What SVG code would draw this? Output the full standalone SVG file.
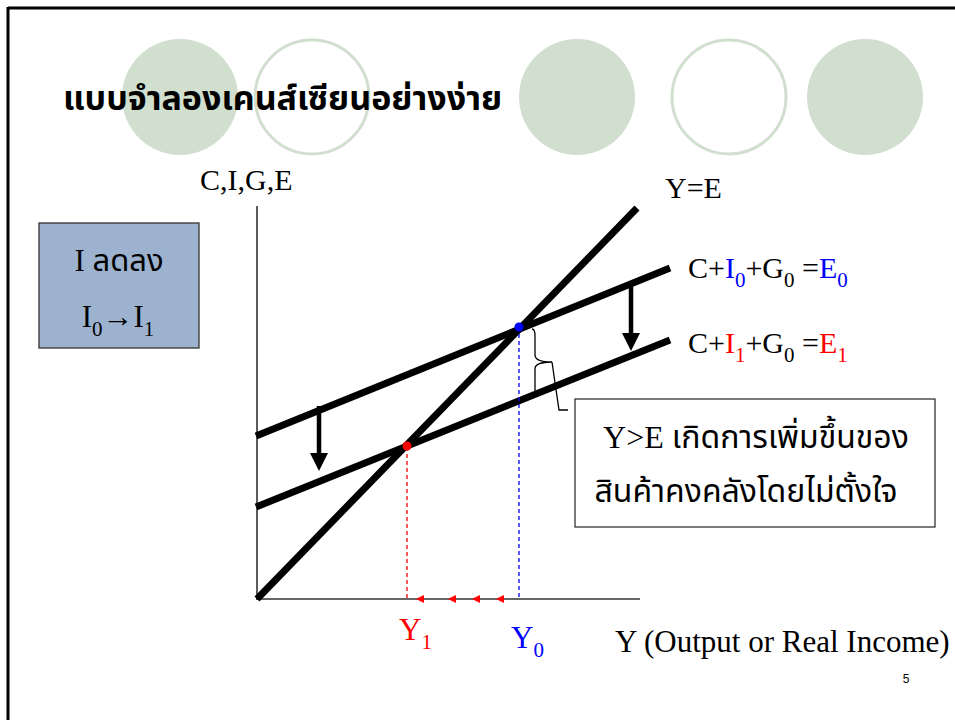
<svg xmlns="http://www.w3.org/2000/svg" width="955" height="720" viewBox="0 0 955 720">
<style>
.deco-f{fill:#d1dfcf;}
.deco-o{fill:#ffffff;stroke:#d1dfcf;stroke-width:3;}
.t{font-family:"Liberation Serif","Noto Sans Thai","Noto Serif Thai","Noto Sans",serif;fill:#000;}
.red{fill:#ff0000;}
.blue{fill:#0000ff;}
.thick{stroke:#000;stroke-width:7;stroke-linecap:butt;fill:none;}
.axis{stroke:#333;stroke-width:1.6;fill:none;}
.dash{stroke-width:1.3;stroke-dasharray:4 3;fill:none;}
.sub{font-size:21px;}
</style>
<rect width="955" height="720" fill="#ffffff"/>
<g id="frame">
<line x1="8" y1="8" x2="955" y2="8" stroke="#000" stroke-width="3"/>
<line x1="8" y1="7" x2="8" y2="720" stroke="#000" stroke-width="3"/>
</g>
<g id="decor">
<ellipse class="deco-f" cx="180" cy="97" rx="58" ry="58"/>
<ellipse class="deco-o" cx="312" cy="97" rx="57" ry="57"/>
<ellipse class="deco-f" cx="577" cy="97" rx="58" ry="58"/>
<ellipse class="deco-o" cx="729" cy="97" rx="57" ry="57"/>
<ellipse class="deco-f" cx="865" cy="97" rx="58" ry="58"/>
</g>
<g id="title">
<text class="t" x="63" y="110" font-size="34" font-weight="bold">แบบจำลองเคนส์เซียนอย่างง่าย</text>
</g>
<g id="connectors">
<line class="axis" x1="257" y1="206" x2="257" y2="600"/>
<line class="axis" x1="256" y1="599" x2="640" y2="599"/>
<line class="thick" x1="257" y1="599" x2="637" y2="208"/>
<line class="thick" x1="256" y1="436" x2="670" y2="268"/>
<line class="thick" x1="256" y1="507" x2="670" y2="340"/>
<line class="dash" stroke="#ff0000" x1="407" y1="447" x2="407" y2="598"/>
<line class="dash" stroke="#0000ff" x1="519" y1="327" x2="519" y2="598"/>
<g fill="#ff0000">
<path d="M416,599 L424,595 L424,603 Z"/>
<path d="M448,599 L456,595 L456,603 Z"/>
<path d="M472,599 L480,595 L480,603 Z"/>
<path d="M496,599 L504,595 L504,603 Z"/>
</g>
<g id="arrow-left">
<line x1="319" y1="406" x2="319" y2="455" stroke="#000" stroke-width="4.5"/>
<path d="M310,453 L328,453 L319,471 Z" fill="#000"/>
</g>
<g id="arrow-right">
<line x1="631" y1="284" x2="631" y2="335" stroke="#000" stroke-width="4.5"/>
<path d="M622,333 L640,333 L631,351 Z" fill="#000"/>
</g>
<path d="M532,329 Q535,329 535,336 L535,355 Q535,362 552,362 Q535,362 535,369 L535,392" fill="none" stroke="#000" stroke-width="1.3"/>
<polyline points="552,362 559,410 568,410" fill="none" stroke="#000" stroke-width="1.3"/>
<circle cx="519" cy="327" r="4.5" fill="#0000ff"/>
<circle cx="407" cy="446" r="4.5" fill="#ff0000"/>
</g>
<g id="label-box">
<rect x="39" y="223" width="160" height="125" fill="#9cb2cf" stroke="#333" stroke-width="1.3"/>
<text class="t" x="119" y="271" font-size="31" text-anchor="middle">I ลดลง</text>
<text class="t" x="118" y="327" font-size="31" text-anchor="middle">I<tspan class="sub" dy="9">0</tspan><tspan dy="-9" font-weight="bold">→</tspan><tspan>I</tspan><tspan class="sub" dy="9">1</tspan></text>
</g>
<g id="axis-labels">
<text class="t" x="200" y="190" font-size="30">C,I,G,E</text>
<text class="t" x="665" y="198" font-size="30">Y=E</text>
<text class="t" x="688" y="278" font-size="30">C+<tspan class="blue">I</tspan><tspan class="sub blue" dy="9">0</tspan><tspan dy="-9">+G</tspan><tspan class="sub" dy="9">0</tspan><tspan dy="-9"> =</tspan><tspan class="blue">E</tspan><tspan class="sub blue" dy="9">0</tspan></text>
<text class="t" x="688" y="353" font-size="30">C+<tspan class="red">I</tspan><tspan class="sub red" dy="9">1</tspan><tspan dy="-9">+G</tspan><tspan class="sub" dy="9">0</tspan><tspan dy="-9"> =</tspan><tspan class="red">E</tspan><tspan class="sub red" dy="9">1</tspan></text>
<text class="t red" x="399" y="640" font-size="31">Y<tspan class="sub" dy="9">1</tspan></text>
<text class="t blue" x="511" y="648" font-size="31">Y<tspan class="sub" dy="9">0</tspan></text>
<text class="t" x="615" y="652" font-size="31">Y (Output or Real Income)</text>
</g>
<g id="note-box">
<rect x="575" y="399" width="360" height="128" fill="#ffffff" stroke="#333" stroke-width="1.3"/>
<text class="t" x="756" y="448" font-size="32" text-anchor="middle">Y&gt;E เกิดการเพิ่มขึ้นของ</text>
<text class="t" x="746" y="502" font-size="32" text-anchor="middle">สินค้าคงคลังโดยไม่ตั้งใจ</text>
</g>
<g id="page-number">
<text x="906" y="683" font-family="Liberation Sans, Arial, sans-serif" font-size="12" text-anchor="middle">5</text>
</g>
</svg>
